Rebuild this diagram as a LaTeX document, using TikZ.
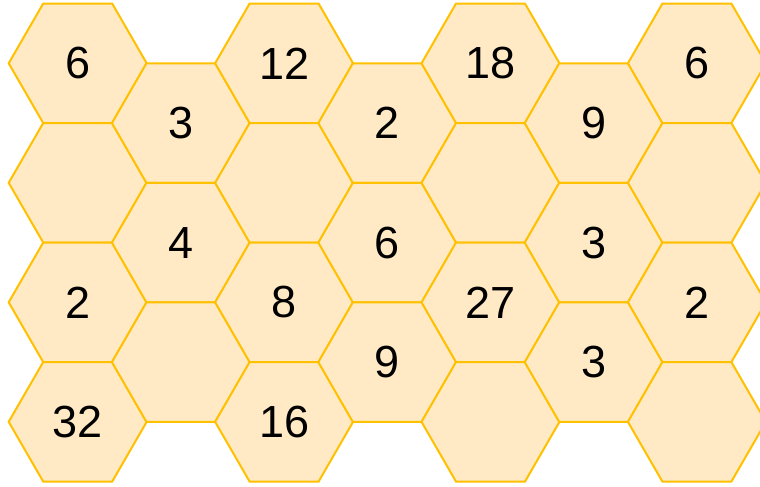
\documentclass[tikz,border=0pt]{standalone}
\usepackage{xcolor}
\usepackage{fontspec}
\setmainfont{Liberation Sans}
\usepackage{tikz}
\usetikzlibrary{shapes.geometric}

\definecolor{hexfill}{HTML}{FFEAC5}
\definecolor{hexline}{HTML}{FFC000}

\begin{document}
\begin{tikzpicture}[x=0.75pt, y=-0.75pt, every node/.style={font=\fontsize{33.75}{40}\selectfont}, hexcell/.style={regular polygon, regular polygon sides=6, minimum size=103.5pt, inner sep=0pt, draw=hexline, fill=hexfill, line width=1.5pt, line join=miter}]
\clip (0,0) rectangle (760,486);
% column 1
\node[hexcell] (c0r0) at (77.7,63.3) {6};
\node[hexcell] (c0r1) at (77.7,182.8) {};
\node[hexcell] (c0r2) at (77.7,302.3) {2};
\node[hexcell] (c0r3) at (77.7,421.8) {32};
% column 2
\node[hexcell] (c1r0) at (180.9,123.1) {3};
\node[hexcell] (c1r1) at (180.9,242.6) {4};
\node[hexcell] (c1r2) at (180.9,362.1) {};
% column 3
\node[hexcell] (c2r0) at (284.1,63.3) {12};
\node[hexcell] (c2r1) at (284.1,182.8) {};
\node[hexcell] (c2r2) at (284.1,302.3) {8};
\node[hexcell] (c2r3) at (284.1,421.8) {16};
% column 4
\node[hexcell] (c3r0) at (387.3,123.1) {2};
\node[hexcell] (c3r1) at (387.3,242.6) {6};
\node[hexcell] (c3r2) at (387.3,362.1) {9};
% column 5
\node[hexcell] (c4r0) at (490.5,63.3) {18};
\node[hexcell] (c4r1) at (490.5,182.8) {};
\node[hexcell] (c4r2) at (490.5,302.3) {27};
\node[hexcell] (c4r3) at (490.5,421.8) {};
% column 6
\node[hexcell] (c5r0) at (593.7,123.1) {9};
\node[hexcell] (c5r1) at (593.7,242.6) {3};
\node[hexcell] (c5r2) at (593.7,362.1) {3};
% column 7
\node[hexcell] (c6r0) at (696.9,63.3) {6};
\node[hexcell] (c6r1) at (696.9,182.8) {};
\node[hexcell] (c6r2) at (696.9,302.3) {2};
\node[hexcell] (c6r3) at (696.9,421.8) {};
\end{tikzpicture}
\end{document}
